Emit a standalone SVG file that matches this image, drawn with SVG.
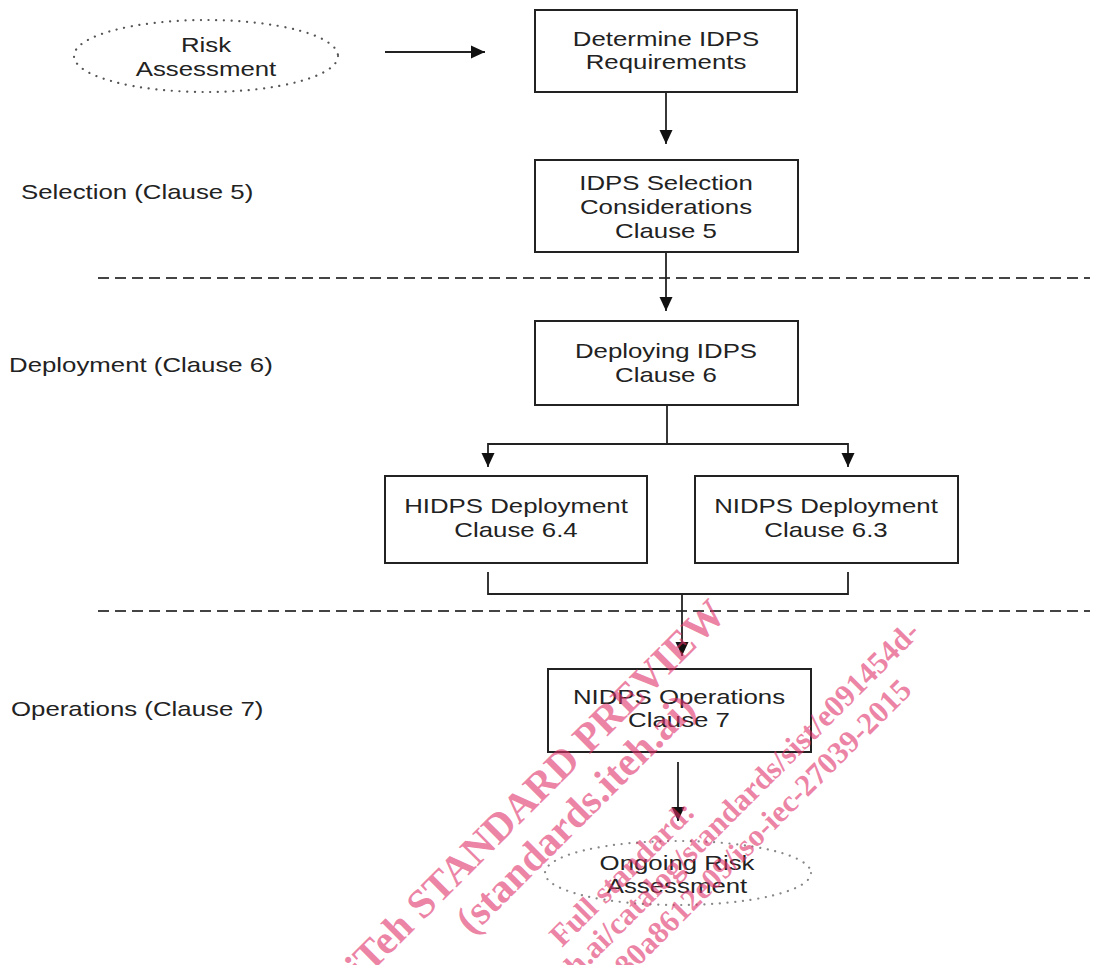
<svg xmlns="http://www.w3.org/2000/svg" width="1093" height="965" viewBox="0 0 1093 965">
<style>
.bg{fill:#ffffff}
.box{fill:#ffffff;stroke:#222;stroke-width:2}
.t{font-family:"Liberation Sans",Arial,sans-serif;font-size:20px;fill:#222;text-anchor:middle}
.lbl{font-family:"Liberation Sans",Arial,sans-serif;font-size:20px;fill:#222;text-anchor:start}
.conn{fill:none;stroke:#222;stroke-width:1.8}
.dash{fill:none;stroke:#444;stroke-width:1.8;stroke-dasharray:11 6}
.dot1{fill:#ffffff;stroke:#555;stroke-width:2.2;stroke-dasharray:0.1 7.6;stroke-linecap:round}
.dot2{fill:#ffffff;stroke:#888;stroke-width:2.2;stroke-dasharray:0.1 7.6;stroke-linecap:round}
.wm{font-family:"Liberation Serif","Times New Roman",serif;font-weight:bold;fill:#e0306a;fill-opacity:0.6}
</style>
<defs>
<marker id="arr" markerUnits="userSpaceOnUse" markerWidth="14" markerHeight="14" refX="14" refY="7" orient="auto">
<path d="M0,0.5 L14,7 L0,13.5 z" fill="#111"/>
</marker>
</defs>
<rect class="bg" x="0" y="0" width="1093" height="965"/>

<g id="separators">
<line class="dash" x1="98" y1="278" x2="1090" y2="278"/>
<line class="dash" x1="98" y1="611" x2="1090" y2="611"/>
</g>

<g id="phase-labels">
<text class="lbl" transform="translate(21,199) scale(1.29,1)">Selection (Clause 5)</text>
<text class="lbl" transform="translate(9,372) scale(1.29,1)">Deployment (Clause 6)</text>
<text class="lbl" transform="translate(11,716) scale(1.29,1)">Operations (Clause 7)</text>
</g>

<g id="connectors">
<line class="conn" x1="385" y1="52" x2="485" y2="52" marker-end="url(#arr)"/>
<line class="conn" x1="666" y1="92" x2="666" y2="144" marker-end="url(#arr)"/>
<line class="conn" x1="666" y1="252" x2="666" y2="311" marker-end="url(#arr)"/>
<polyline class="conn" points="667,405 667,444"/>
<polyline class="conn" points="488,444 848,444"/>
<line class="conn" x1="488" y1="443" x2="488" y2="467" marker-end="url(#arr)"/>
<line class="conn" x1="848" y1="443" x2="848" y2="467" marker-end="url(#arr)"/>
<polyline class="conn" points="488,572 488,594 848,594 848,572"/>
<line class="conn" x1="682" y1="594" x2="682" y2="656" marker-end="url(#arr)"/>
<line class="conn" x1="678" y1="762" x2="678" y2="821" marker-end="url(#arr)"/>
</g>

<g id="risk-assessment">
<ellipse class="dot1" cx="206" cy="56" rx="132" ry="36"/>
<text class="t" transform="translate(206,52) scale(1.29,1)">Risk</text>
<text class="t" transform="translate(206,76) scale(1.29,1)">Assessment</text>
</g>

<g id="determine-requirements">
<rect class="box" x="535" y="10" width="262" height="82"/>
<text class="t" transform="translate(666,46) scale(1.29,1)">Determine IDPS</text>
<text class="t" transform="translate(666,69) scale(1.29,1)">Requirements</text>
</g>

<g id="selection-considerations">
<rect class="box" x="535" y="160" width="263" height="92"/>
<text class="t" transform="translate(666,190) scale(1.29,1)">IDPS Selection</text>
<text class="t" transform="translate(666,214) scale(1.29,1)">Considerations</text>
<text class="t" transform="translate(666,238) scale(1.29,1)">Clause 5</text>
</g>

<g id="deploying-idps">
<rect class="box" x="535" y="321" width="263" height="84"/>
<text class="t" transform="translate(666,358) scale(1.29,1)">Deploying IDPS</text>
<text class="t" transform="translate(666,382) scale(1.29,1)">Clause 6</text>
</g>

<g id="hidps-deployment">
<rect class="box" x="385" y="476" width="262" height="87"/>
<text class="t" transform="translate(516,513) scale(1.29,1)">HIDPS Deployment</text>
<text class="t" transform="translate(516,537) scale(1.29,1)">Clause 6.4</text>
</g>

<g id="nidps-deployment">
<rect class="box" x="695" y="476" width="263" height="87"/>
<text class="t" transform="translate(826,513) scale(1.29,1)">NIDPS Deployment</text>
<text class="t" transform="translate(826,537) scale(1.29,1)">Clause 6.3</text>
</g>

<g id="nidps-operations">
<rect class="box" x="548" y="669" width="263" height="83"/>
<text class="t" transform="translate(679,704) scale(1.29,1)">NIDPS Operations</text>
<text class="t" transform="translate(679,727) scale(1.29,1)">Clause 7</text>
</g>

<g id="ongoing-risk-assessment">
<ellipse class="dot2" cx="678" cy="873" rx="133" ry="32"/>
<text class="t" transform="translate(677,870) scale(1.29,1)">Ongoing Risk</text>
<text class="t" transform="translate(677,893) scale(1.29,1)">Assessment</text>
</g>

<g id="watermark">
<text class="wm" font-size="41" transform="translate(362,982) rotate(-45)">iTeh STANDARD PREVIEW</text>
<text class="wm" font-size="41" transform="translate(472,936) rotate(-45)">(standards.iteh.ai)</text>
<text class="wm" font-size="31" transform="translate(562,948) rotate(-45)">Full standard:</text>
<text class="wm" font-size="31" transform="translate(389,1166) rotate(-45)">https://standards.iteh.ai/catalog/standards/sist/e091454d-</text>
<text class="wm" font-size="31" transform="translate(627,978) rotate(-45)">80a8612e09/iso-iec-27039-2015</text>
</g>
</svg>
